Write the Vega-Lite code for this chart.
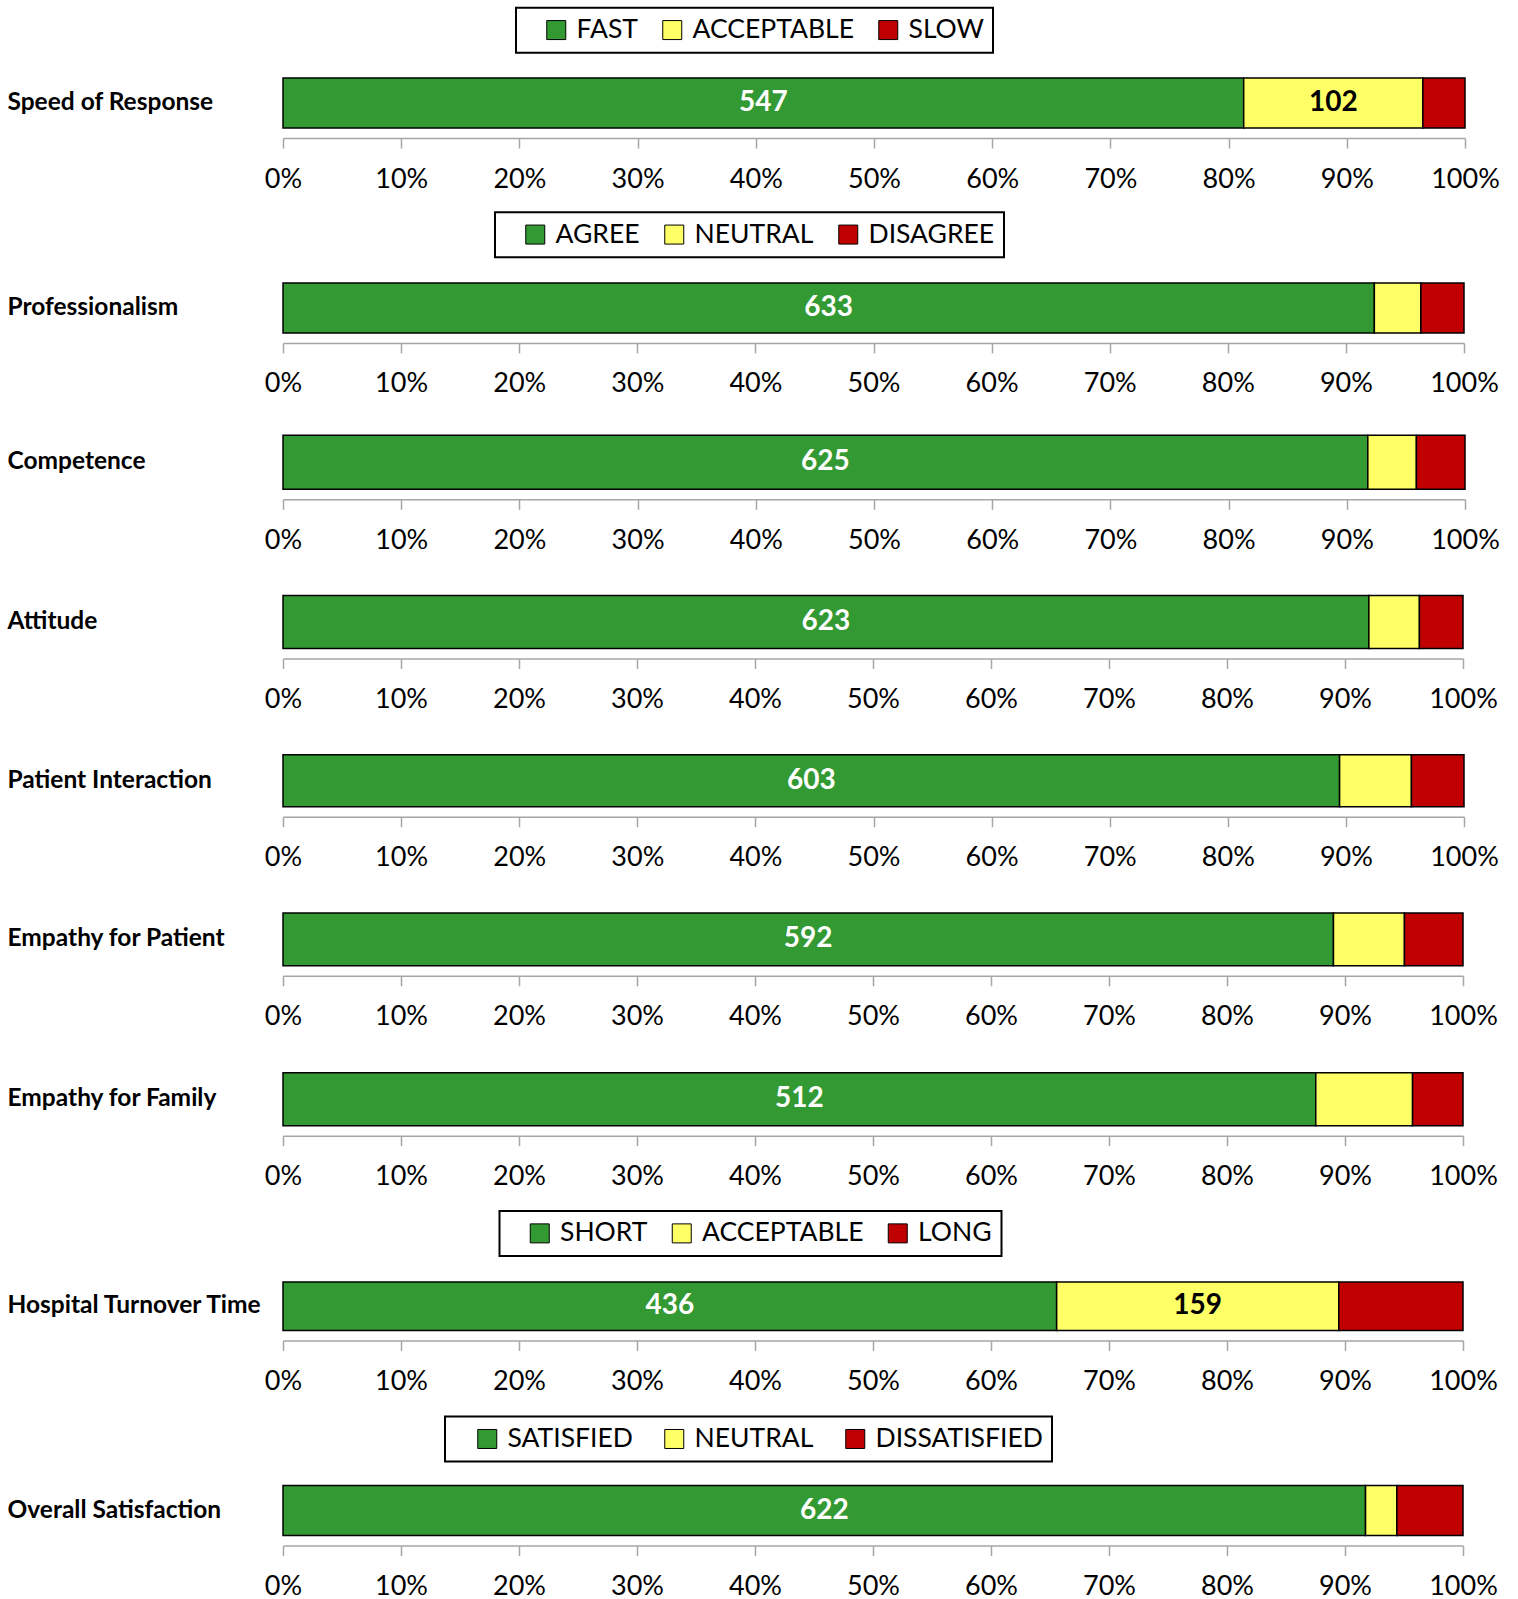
{
  "$schema": "https://vega.github.io/schema/vega-lite/v6.json",
  "background": "white",
  "padding": {"left": 7, "top": 6, "right": 5, "bottom": 5},
  "data": {
    "values": [
      {"item": "Speed of Response", "response": "FAST", "rank": 1, "responses": 547},
      {"item": "Speed of Response", "response": "ACCEPTABLE", "rank": 2, "responses": 102},
      {"item": "Speed of Response", "response": "SLOW", "rank": 3, "responses": 24},
      {"item": "Professionalism", "response": "AGREE", "rank": 1, "responses": 633},
      {"item": "Professionalism", "response": "NEUTRAL", "rank": 2, "responses": 27},
      {"item": "Professionalism", "response": "DISAGREE", "rank": 3, "responses": 25},
      {"item": "Competence", "response": "AGREE", "rank": 1, "responses": 625},
      {"item": "Competence", "response": "NEUTRAL", "rank": 2, "responses": 28},
      {"item": "Competence", "response": "DISAGREE", "rank": 3, "responses": 28},
      {"item": "Attitude", "response": "AGREE", "rank": 1, "responses": 623},
      {"item": "Attitude", "response": "NEUTRAL", "rank": 2, "responses": 29},
      {"item": "Attitude", "response": "DISAGREE", "rank": 3, "responses": 25},
      {"item": "Patient Interaction", "response": "AGREE", "rank": 1, "responses": 603},
      {"item": "Patient Interaction", "response": "NEUTRAL", "rank": 2, "responses": 41},
      {"item": "Patient Interaction", "response": "DISAGREE", "rank": 3, "responses": 30},
      {"item": "Empathy for Patient", "response": "AGREE", "rank": 1, "responses": 592},
      {"item": "Empathy for Patient", "response": "NEUTRAL", "rank": 2, "responses": 40},
      {"item": "Empathy for Patient", "response": "DISAGREE", "rank": 3, "responses": 33},
      {"item": "Empathy for Family", "response": "AGREE", "rank": 1, "responses": 512},
      {"item": "Empathy for Family", "response": "NEUTRAL", "rank": 2, "responses": 48},
      {"item": "Empathy for Family", "response": "DISAGREE", "rank": 3, "responses": 25},
      {"item": "Hospital Turnover Time", "response": "SHORT", "rank": 1, "responses": 436},
      {"item": "Hospital Turnover Time", "response": "ACCEPTABLE", "rank": 2, "responses": 159},
      {"item": "Hospital Turnover Time", "response": "LONG", "rank": 3, "responses": 70},
      {"item": "Overall Satisfaction", "response": "SATISFIED", "rank": 1, "responses": 622},
      {"item": "Overall Satisfaction", "response": "NEUTRAL", "rank": 2, "responses": 18},
      {"item": "Overall Satisfaction", "response": "DISSATISFIED", "rank": 3, "responses": 38}
    ]
  },
  "columns": 1,
  "spacing": 79.5,
  "bounds": "flush",
  "concat": [
    {
      "width": 1182, "height": 50,
      "transform": [
        {"filter": "datum.item === 'Speed of Response'"},
        {"stack": "responses", "groupby": ["item"], "offset": "normalize", "sort": [{"field": "rank", "order": "ascending"}], "as": ["s0", "s1"]}
      ],
      "encoding": {"y": {"field": "item", "type": "nominal", "scale": {"paddingInner": 0, "paddingOuter": 0, "align": 1}, "axis": {"labelPadding": 276}}},
      "layer": [
        {
          "mark": {"type": "bar", "stroke": "black", "strokeWidth": 1.5},
          "encoding": {
            "x": {"field": "s0", "type": "quantitative", "scale": {"domain": [0, 1], "nice": false},
              "axis": {"values": [0, 0.1, 0.2, 0.3, 0.4, 0.5, 0.6, 0.7, 0.8, 0.9, 1]}},
            "x2": {"field": "s1"},
            "color": {"field": "response", "type": "nominal",
              "scale": {"domain": ["FAST", "ACCEPTABLE", "SLOW"], "range": ["#339933", "#FFFF66", "#C00000"]},
              "legend": {"orient": "none", "legendX": 233, "legendY": -70.3}}
          }
        },
        {
          "transform": [{"filter": "datum.responses >= 100"}, {"fold": ["s0", "s1"], "as": ["edge", "pos"]}],
          "mark": {"type": "text", "font": "Lato", "fontWeight": "bold", "fontSize": 28},
          "encoding": {
            "x": {"aggregate": "mean", "field": "pos", "type": "quantitative"},
            "text": {"field": "responses", "type": "quantitative"},
            "detail": {"field": "rank", "type": "ordinal"},
            "color": {"condition": {"test": "datum.rank === 1", "value": "white"}, "value": "black"}
          }
        }
      ]
    },
    {
      "width": 1181, "height": 125.4,
      "transform": [
        {"filter": "datum.item === 'Professionalism'"},
        {"stack": "responses", "groupby": ["item"], "offset": "normalize", "sort": [{"field": "rank", "order": "ascending"}], "as": ["s0", "s1"]}
      ],
      "encoding": {"y": {"field": "item", "type": "nominal", "scale": {"paddingInner": 0, "paddingOuter": 0.754, "align": 1}, "axis": {"labelPadding": 276}}},
      "layer": [
        {
          "mark": {"type": "bar", "stroke": "black", "strokeWidth": 1.5},
          "encoding": {
            "x": {"field": "s0", "type": "quantitative", "scale": {"domain": [0, 1], "nice": false},
              "axis": {"values": [0, 0.1, 0.2, 0.3, 0.4, 0.5, 0.6, 0.7, 0.8, 0.9, 1]}},
            "x2": {"field": "s1"},
            "color": {"field": "response", "type": "nominal",
              "scale": {"domain": ["AGREE", "NEUTRAL", "DISAGREE"], "range": ["#339933", "#FFFF66", "#C00000"]},
              "legend": {"orient": "none", "legendX": 212, "legendY": 4.7}}
          }
        },
        {
          "transform": [{"filter": "datum.responses >= 100"}, {"fold": ["s0", "s1"], "as": ["edge", "pos"]}],
          "mark": {"type": "text", "font": "Lato", "fontWeight": "bold", "fontSize": 28},
          "encoding": {
            "x": {"aggregate": "mean", "field": "pos", "type": "quantitative"},
            "text": {"field": "responses", "type": "quantitative"},
            "detail": {"field": "rank", "type": "ordinal"},
            "color": {"condition": {"test": "datum.rank === 1", "value": "white"}, "value": "black"}
          }
        }
      ]
    },
    {
      "width": 1182, "height": 76.3,
      "transform": [
        {"filter": "datum.item === 'Competence'"},
        {"stack": "responses", "groupby": ["item"], "offset": "normalize", "sort": [{"field": "rank", "order": "ascending"}], "as": ["s0", "s1"]}
      ],
      "encoding": {"y": {"field": "item", "type": "nominal", "scale": {"paddingInner": 0, "paddingOuter": 0.2065, "align": 1}, "axis": {"labelPadding": 276}}},
      "layer": [
        {
          "mark": {"type": "bar", "stroke": "black", "strokeWidth": 1.5},
          "encoding": {
            "x": {"field": "s0", "type": "quantitative", "scale": {"domain": [0, 1], "nice": false},
              "axis": {"values": [0, 0.1, 0.2, 0.3, 0.4, 0.5, 0.6, 0.7, 0.8, 0.9, 1]}},
            "x2": {"field": "s1"},
            "color": {"field": "response", "type": "nominal",
              "scale": {"domain": ["AGREE", "NEUTRAL", "DISAGREE"], "range": ["#339933", "#FFFF66", "#C00000"]},
              "legend": null}
          }
        },
        {
          "transform": [{"filter": "datum.responses >= 100"}, {"fold": ["s0", "s1"], "as": ["edge", "pos"]}],
          "mark": {"type": "text", "font": "Lato", "fontWeight": "bold", "fontSize": 28},
          "encoding": {
            "x": {"aggregate": "mean", "field": "pos", "type": "quantitative"},
            "text": {"field": "responses", "type": "quantitative"},
            "detail": {"field": "rank", "type": "ordinal"},
            "color": {"condition": {"test": "datum.rank === 1", "value": "white"}, "value": "black"}
          }
        }
      ]
    },
    {
      "width": 1180, "height": 79,
      "transform": [
        {"filter": "datum.item === 'Attitude'"},
        {"stack": "responses", "groupby": ["item"], "offset": "normalize", "sort": [{"field": "rank", "order": "ascending"}], "as": ["s0", "s1"]}
      ],
      "encoding": {"y": {"field": "item", "type": "nominal", "scale": {"paddingInner": 0, "paddingOuter": 0.2453, "align": 1}, "axis": {"labelPadding": 276}}},
      "layer": [
        {
          "mark": {"type": "bar", "stroke": "black", "strokeWidth": 1.5},
          "encoding": {
            "x": {"field": "s0", "type": "quantitative", "scale": {"domain": [0, 1], "nice": false},
              "axis": {"values": [0, 0.1, 0.2, 0.3, 0.4, 0.5, 0.6, 0.7, 0.8, 0.9, 1]}},
            "x2": {"field": "s1"},
            "color": {"field": "response", "type": "nominal",
              "scale": {"domain": ["AGREE", "NEUTRAL", "DISAGREE"], "range": ["#339933", "#FFFF66", "#C00000"]},
              "legend": null}
          }
        },
        {
          "transform": [{"filter": "datum.responses >= 100"}, {"fold": ["s0", "s1"], "as": ["edge", "pos"]}],
          "mark": {"type": "text", "font": "Lato", "fontWeight": "bold", "fontSize": 28},
          "encoding": {
            "x": {"aggregate": "mean", "field": "pos", "type": "quantitative"},
            "text": {"field": "responses", "type": "quantitative"},
            "detail": {"field": "rank", "type": "ordinal"},
            "color": {"condition": {"test": "datum.rank === 1", "value": "white"}, "value": "black"}
          }
        }
      ]
    },
    {
      "width": 1181, "height": 78.7,
      "transform": [
        {"filter": "datum.item === 'Patient Interaction'"},
        {"stack": "responses", "groupby": ["item"], "offset": "normalize", "sort": [{"field": "rank", "order": "ascending"}], "as": ["s0", "s1"]}
      ],
      "encoding": {"y": {"field": "item", "type": "nominal", "scale": {"paddingInner": 0, "paddingOuter": 0.2567, "align": 1}, "axis": {"labelPadding": 276}}},
      "layer": [
        {
          "mark": {"type": "bar", "stroke": "black", "strokeWidth": 1.5},
          "encoding": {
            "x": {"field": "s0", "type": "quantitative", "scale": {"domain": [0, 1], "nice": false},
              "axis": {"values": [0, 0.1, 0.2, 0.3, 0.4, 0.5, 0.6, 0.7, 0.8, 0.9, 1]}},
            "x2": {"field": "s1"},
            "color": {"field": "response", "type": "nominal",
              "scale": {"domain": ["AGREE", "NEUTRAL", "DISAGREE"], "range": ["#339933", "#FFFF66", "#C00000"]},
              "legend": null}
          }
        },
        {
          "transform": [{"filter": "datum.responses >= 100"}, {"fold": ["s0", "s1"], "as": ["edge", "pos"]}],
          "mark": {"type": "text", "font": "Lato", "fontWeight": "bold", "fontSize": 28},
          "encoding": {
            "x": {"aggregate": "mean", "field": "pos", "type": "quantitative"},
            "text": {"field": "responses", "type": "quantitative"},
            "detail": {"field": "rank", "type": "ordinal"},
            "color": {"condition": {"test": "datum.rank === 1", "value": "white"}, "value": "black"}
          }
        }
      ]
    },
    {
      "width": 1180, "height": 79.3,
      "transform": [
        {"filter": "datum.item === 'Empathy for Patient'"},
        {"stack": "responses", "groupby": ["item"], "offset": "normalize", "sort": [{"field": "rank", "order": "ascending"}], "as": ["s0", "s1"]}
      ],
      "encoding": {"y": {"field": "item", "type": "nominal", "scale": {"paddingInner": 0, "paddingOuter": 0.2524, "align": 1}, "axis": {"labelPadding": 276}}},
      "layer": [
        {
          "mark": {"type": "bar", "stroke": "black", "strokeWidth": 1.5},
          "encoding": {
            "x": {"field": "s0", "type": "quantitative", "scale": {"domain": [0, 1], "nice": false},
              "axis": {"values": [0, 0.1, 0.2, 0.3, 0.4, 0.5, 0.6, 0.7, 0.8, 0.9, 1]}},
            "x2": {"field": "s1"},
            "color": {"field": "response", "type": "nominal",
              "scale": {"domain": ["AGREE", "NEUTRAL", "DISAGREE"], "range": ["#339933", "#FFFF66", "#C00000"]},
              "legend": null}
          }
        },
        {
          "transform": [{"filter": "datum.responses >= 100"}, {"fold": ["s0", "s1"], "as": ["edge", "pos"]}],
          "mark": {"type": "text", "font": "Lato", "fontWeight": "bold", "fontSize": 28},
          "encoding": {
            "x": {"aggregate": "mean", "field": "pos", "type": "quantitative"},
            "text": {"field": "responses", "type": "quantitative"},
            "detail": {"field": "rank", "type": "ordinal"},
            "color": {"condition": {"test": "datum.rank === 1", "value": "white"}, "value": "black"}
          }
        }
      ]
    },
    {
      "width": 1180, "height": 79.7,
      "transform": [
        {"filter": "datum.item === 'Empathy for Family'"},
        {"stack": "responses", "groupby": ["item"], "offset": "normalize", "sort": [{"field": "rank", "order": "ascending"}], "as": ["s0", "s1"]}
      ],
      "encoding": {"y": {"field": "item", "type": "nominal", "scale": {"paddingInner": 0, "paddingOuter": 0.2519, "align": 1}, "axis": {"labelPadding": 276}}},
      "layer": [
        {
          "mark": {"type": "bar", "stroke": "black", "strokeWidth": 1.5},
          "encoding": {
            "x": {"field": "s0", "type": "quantitative", "scale": {"domain": [0, 1], "nice": false},
              "axis": {"values": [0, 0.1, 0.2, 0.3, 0.4, 0.5, 0.6, 0.7, 0.8, 0.9, 1]}},
            "x2": {"field": "s1"},
            "color": {"field": "response", "type": "nominal",
              "scale": {"domain": ["AGREE", "NEUTRAL", "DISAGREE"], "range": ["#339933", "#FFFF66", "#C00000"]},
              "legend": null}
          }
        },
        {
          "transform": [{"filter": "datum.responses >= 100"}, {"fold": ["s0", "s1"], "as": ["edge", "pos"]}],
          "mark": {"type": "text", "font": "Lato", "fontWeight": "bold", "fontSize": 28},
          "encoding": {
            "x": {"aggregate": "mean", "field": "pos", "type": "quantitative"},
            "text": {"field": "responses", "type": "quantitative"},
            "detail": {"field": "rank", "type": "ordinal"},
            "color": {"condition": {"test": "datum.rank === 1", "value": "white"}, "value": "black"}
          }
        }
      ]
    },
    {
      "width": 1180, "height": 124.9,
      "transform": [
        {"filter": "datum.item === 'Hospital Turnover Time'"},
        {"stack": "responses", "groupby": ["item"], "offset": "normalize", "sort": [{"field": "rank", "order": "ascending"}], "as": ["s0", "s1"]}
      ],
      "encoding": {"y": {"field": "item", "type": "nominal", "scale": {"paddingInner": 0, "paddingOuter": 0.793, "align": 1}, "axis": {"labelPadding": 276}}},
      "layer": [
        {
          "mark": {"type": "bar", "stroke": "black", "strokeWidth": 1.5},
          "encoding": {
            "x": {"field": "s0", "type": "quantitative", "scale": {"domain": [0, 1], "nice": false},
              "axis": {"values": [0, 0.1, 0.2, 0.3, 0.4, 0.5, 0.6, 0.7, 0.8, 0.9, 1]}},
            "x2": {"field": "s1"},
            "color": {"field": "response", "type": "nominal",
              "scale": {"domain": ["SHORT", "ACCEPTABLE", "LONG"], "range": ["#339933", "#FFFF66", "#C00000"]},
              "legend": {"orient": "none", "legendX": 216.5, "legendY": 5.5}}
          }
        },
        {
          "transform": [{"filter": "datum.responses >= 100"}, {"fold": ["s0", "s1"], "as": ["edge", "pos"]}],
          "mark": {"type": "text", "font": "Lato", "fontWeight": "bold", "fontSize": 28},
          "encoding": {
            "x": {"aggregate": "mean", "field": "pos", "type": "quantitative"},
            "text": {"field": "responses", "type": "quantitative"},
            "detail": {"field": "rank", "type": "ordinal"},
            "color": {"condition": {"test": "datum.rank === 1", "value": "white"}, "value": "black"}
          }
        }
      ]
    },
    {
      "width": 1180, "height": 125.6,
      "transform": [
        {"filter": "datum.item === 'Overall Satisfaction'"},
        {"stack": "responses", "groupby": ["item"], "offset": "normalize", "sort": [{"field": "rank", "order": "ascending"}], "as": ["s0", "s1"]}
      ],
      "encoding": {"y": {"field": "item", "type": "nominal", "scale": {"paddingInner": 0, "paddingOuter": 0.756, "align": 1}, "axis": {"labelPadding": 276}}},
      "layer": [
        {
          "mark": {"type": "bar", "stroke": "black", "strokeWidth": 1.5},
          "encoding": {
            "x": {"field": "s0", "type": "quantitative", "scale": {"domain": [0, 1], "nice": false},
              "axis": {"values": [0, 0.1, 0.2, 0.3, 0.4, 0.5, 0.6, 0.7, 0.8, 0.9, 1]}},
            "x2": {"field": "s1"},
            "color": {"field": "response", "type": "nominal",
              "scale": {"domain": ["SATISFIED", "NEUTRAL", "DISSATISFIED"], "range": ["#339933", "#FFFF66", "#C00000"]},
              "legend": {"orient": "none", "legendX": 162, "legendY": 6.6, "symbolOffset": 20, "columnPadding": 8}}
          }
        },
        {
          "transform": [{"filter": "datum.responses >= 100"}, {"fold": ["s0", "s1"], "as": ["edge", "pos"]}],
          "mark": {"type": "text", "font": "Lato", "fontWeight": "bold", "fontSize": 28},
          "encoding": {
            "x": {"aggregate": "mean", "field": "pos", "type": "quantitative"},
            "text": {"field": "responses", "type": "quantitative"},
            "detail": {"field": "rank", "type": "ordinal"},
            "color": {"condition": {"test": "datum.rank === 1", "value": "white"}, "value": "black"}
          }
        }
      ]
    }
  ],
  "resolve": {
    "scale": {"x": "independent", "y": "independent", "color": "independent"},
    "legend": {"color": "independent"}
  },
  "config": {
    "view": {"stroke": null},
    "font": "Lato",
    "axisX": {
      "title": null,
      "format": ".0%",
      "grid": false,
      "offset": 10,
      "domainColor": "#a6a6a6",
      "domainWidth": 1.5,
      "tickColor": "#a6a6a6",
      "tickWidth": 1.5,
      "tickSize": 10,
      "labelFont": "Lato",
      "labelFontSize": 27,
      "labelColor": "black",
      "labelPadding": 18,
      "labelFlush": false,
      "labelOverlap": false
    },
    "axisY": {
      "title": null,
      "domain": false,
      "ticks": false,
      "grid": false,
      "labelFont": "Lato",
      "labelFontWeight": "bold",
      "labelFontSize": 24.5,
      "labelColor": "black",
      "labelAlign": "left",
      "labelLimit": 400
    },
    "legend": {
      "direction": "horizontal",
      "title": null,
      "strokeColor": "black",
      "strokeWidth": 2,
      "fillColor": "white",
      "padding": 9,
      "symbolType": "square",
      "symbolSize": 361,
      "symbolOffset": 18,
      "symbolStrokeColor": "black",
      "symbolStrokeWidth": 1,
      "labelFont": "Lato",
      "labelFontSize": 26.5,
      "labelColor": "black",
      "labelLimit": 400,
      "labelOffset": 7,
      "columnPadding": 3
    }
  }
}
